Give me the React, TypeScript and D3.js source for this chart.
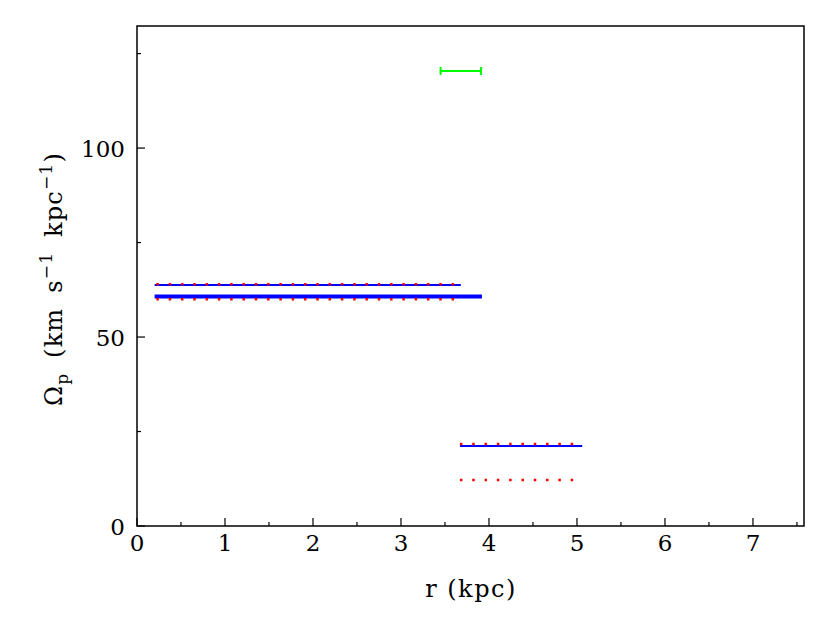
import React, { useEffect, useRef } from "react";
import * as d3 from "d3";

// horizontal segments: [x0, x1, y]
const blueThin = [
  [0.2, 3.68, 63.8],
  [3.67, 5.06, 21.2],
];
const blueThick = [[0.2, 3.92, 60.7]];
const redDotted = [
  [0.22, 3.66, 64.0],
  [0.22, 3.66, 60.0],
  [3.67, 4.97, 21.7],
  [3.67, 4.97, 12.2],
];
const greenBar = [[3.45, 3.91, 120.4]];

const xMajor = [0, 1, 2, 3, 4, 5, 6, 7];
const yMajor = [0, 50, 100];

const W = 830;
const H = 617;

const App = () => {
  const svgRef = useRef<SVGSVGElement>(null);

  useEffect(() => {
    const svg = d3.select(svgRef.current);
    svg.selectAll("*").remove();

    const left = 137, right = 804, top = 26, bottom = 526;
    const x = d3.scaleLinear().domain([0, 7.58]).range([left, right]);
    const y = d3.scaleLinear().domain([0, 132.3]).range([bottom, top]);
    const font = "'DejaVu Serif', serif";

    svg.append("rect")
      .attr("x", left).attr("y", top)
      .attr("width", right - left).attr("height", bottom - top)
      .attr("fill", "none").attr("stroke", "#000").attr("stroke-width", 1.5);

    // x ticks
    const xMinor = d3.range(0.5, 7.6, 1);
    svg.append("g").selectAll("line").data(xMajor).join("line")
      .attr("x1", (d) => x(d)).attr("x2", (d) => x(d))
      .attr("y1", bottom).attr("y2", bottom - 8)
      .attr("stroke", "#000").attr("stroke-width", 1.2);
    svg.append("g").selectAll("line").data(xMinor).join("line")
      .attr("x1", (d) => x(d)).attr("x2", (d) => x(d))
      .attr("y1", bottom).attr("y2", bottom - 4)
      .attr("stroke", "#000").attr("stroke-width", 1.2);
    svg.append("g").selectAll("text").data(xMajor).join("text")
      .attr("x", (d) => x(d)).attr("y", bottom + 25)
      .attr("text-anchor", "middle")
      .attr("font-family", font).attr("font-size", 23)
      .text((d) => d);

    // y ticks
    const yMinor = [25, 75, 125];
    svg.append("g").selectAll("line").data(yMajor).join("line")
      .attr("x1", left).attr("x2", left + 8)
      .attr("y1", (d) => y(d)).attr("y2", (d) => y(d))
      .attr("stroke", "#000").attr("stroke-width", 1.2);
    svg.append("g").selectAll("line").data(yMinor).join("line")
      .attr("x1", left).attr("x2", left + 4)
      .attr("y1", (d) => y(d)).attr("y2", (d) => y(d))
      .attr("stroke", "#000").attr("stroke-width", 1.2);
    svg.append("g").selectAll("text").data(yMajor).join("text")
      .attr("x", left - 12).attr("y", (d) => y(d) + 8.5)
      .attr("text-anchor", "end")
      .attr("font-family", font).attr("font-size", 23)
      .text((d) => d);

    // axis labels
    svg.append("text")
      .attr("x", 471).attr("y", 597)
      .attr("text-anchor", "middle")
      .attr("font-family", font).attr("font-size", 24)
      .attr("letter-spacing", 1.5)
      .text("r (kpc)");

    const yl = svg.append("text")
      .attr("transform", `translate(62,279) rotate(-90)`)
      .attr("text-anchor", "middle")
      .attr("font-family", font).attr("font-size", 24)
      .attr("letter-spacing", 1.2)
      .attr("word-spacing", 6);
    yl.append("tspan").text("Ω");
    yl.append("tspan").attr("font-size", 17).attr("dy", 6).text("p");
    yl.append("tspan").attr("dy", -6).text(" (km s");
    yl.append("tspan").attr("font-size", 17).attr("dy", -10).text("−1");
    yl.append("tspan").attr("dy", 10).text(" kpc");
    yl.append("tspan").attr("font-size", 17).attr("dy", -10).text("−1");
    yl.append("tspan").attr("dy", 10).text(")");

    const seg = (data, color, width, dash) =>
      svg.append("g").selectAll("line").data(data).join("line")
        .attr("x1", (d) => x(d[0])).attr("x2", (d) => x(d[1]))
        .attr("y1", (d) => y(d[2])).attr("y2", (d) => y(d[2]))
        .attr("stroke", color).attr("stroke-width", width)
        .attr("stroke-dasharray", dash);

    seg(blueThin, "#0000ff", 2, null);
    seg(blueThick, "#0000ff", 4, null);
    seg(redDotted, "#ff0000", 2.5, "2.5,9.8");

    // green error bar
    const g = svg.append("g").attr("stroke", "#00ff00").attr("stroke-width", 2);
    g.selectAll("line.h").data(greenBar).join("line")
      .attr("x1", (d) => x(d[0])).attr("x2", (d) => x(d[1]))
      .attr("y1", (d) => y(d[2])).attr("y2", (d) => y(d[2]));
    greenBar.forEach((d) => {
      [d[0], d[1]].forEach((v) => {
        g.append("line")
          .attr("x1", x(v)).attr("x2", x(v))
          .attr("y1", y(d[2]) - 4).attr("y2", y(d[2]) + 4);
      });
    });
  }, []);

  return (
    <svg
      ref={svgRef}
      width={W}
      height={H}
      style={{ position: "absolute", left: 0, top: 0, background: "#fff" }}
    />
  );
};

export default App;
